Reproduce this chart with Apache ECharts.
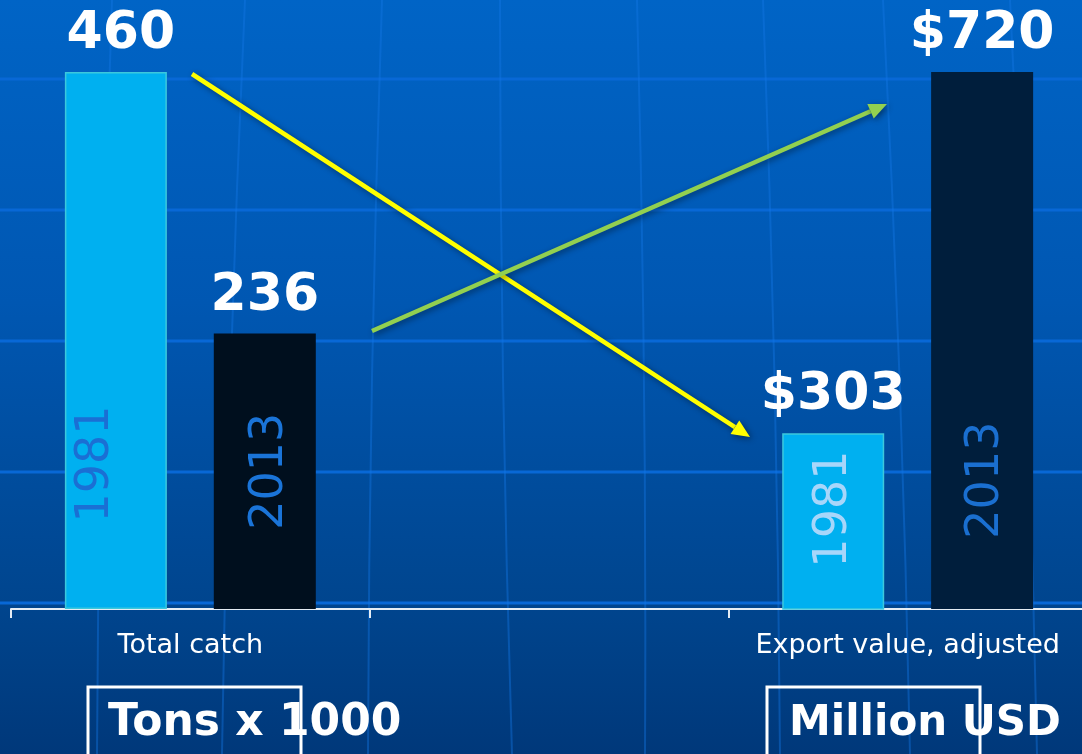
<!DOCTYPE html>
<html>
<head>
<meta charset="utf-8">
<title>Total catch and export value, 1981 vs 2013</title>
<script src="https://cdn.jsdelivr.net/npm/echarts@6/dist/echarts.min.js"></script>
<style>
  html, body { margin: 0; padding: 0; }
  #chart { width: 1082px; height: 754px; }
</style>
</head>
<body>
<div id="chart"></div>
<script>
// data
const categories = ['Total catch', '', 'Export value, adjusted']
const years = ['1981', '2013']
const catchValues = [460, 236]   // tons x 1000
const exportValues = [303, 720]  // million USD

const FONT = 'DejaVu Sans, Verdana, sans-serif'

// the slide's last category runs off the right edge, so don't let v6 shrink the grid
const GRID = { left: 11, top: 72, width: 1076, height: 537, outerBoundsMode: 'none', containLabel: false }

// one bar series, only filled at its own category
const makeBar = ({ year, value, catIndex, axisIndex, color, border, labelColor, labelPos, prefix, valueOffset }) => ({
  type: 'bar',
  name: year,
  xAxisIndex: axisIndex,
  yAxisIndex: axisIndex,
  clip: true,
  barWidth: 102,
  barGap: '46%',
  data: categories.map((c, i) => (i === catIndex ? value : '-')),
  itemStyle: {
    color: color,
    borderColor: border || color,
    borderWidth: border ? 1.5 : 0
  },
  label: {
    show: true,
    formatter: year,
    position: labelPos,
    rotate: 90,
    align: 'center',
    verticalAlign: 'middle',
    color: labelColor,
    fontFamily: FONT,
    fontSize: 46
  },
  markPoint: {
    symbol: 'circle',
    symbolSize: 1,
    silent: true,
    itemStyle: { color: 'rgba(0,0,0,0)' },
    data: [{ type: 'max' }],
    label: {
      show: true,
      position: 'top',
      distance: 11,
      offset: valueOffset || [0, 0],
      formatter: (p) => prefix + p.value,
      color: '#ffffff',
      fontFamily: FONT,
      fontWeight: 'bold',
      fontSize: 52
    }
  }
})

const series = [
  makeBar({ year: years[0], value: catchValues[0], catIndex: 0, axisIndex: 0, color: '#00b0f0', border: '#3cc8dc', labelColor: '#1a6fd4', labelPos: ['31%', '73%'], prefix: '', valueOffset: [5, 0] }),
  makeBar({ year: years[1], value: catchValues[1], catIndex: 0, axisIndex: 0, color: '#000f1e', labelColor: '#1a74d8', labelPos: ['55%', '50%'], prefix: '' }),
  makeBar({ year: years[0], value: exportValues[0], catIndex: 2, axisIndex: 1, color: '#00b0f0', border: '#3cc8dc', labelColor: '#a8d6fa', labelPos: ['51%', '43%'], prefix: '$' }),
  makeBar({ year: years[1], value: exportValues[1], catIndex: 2, axisIndex: 1, color: '#001e3c', labelColor: '#1a6fd0', labelPos: ['54%', '76%'], prefix: '$' })
]

// slide background: faint globe grid
const hLines = [79, 210, 341, 472, 603].map((y) => ({
  type: 'line',
  z: -10,
  silent: true,
  shape: { x1: 0, y1: y, x2: 1082, y2: y },
  style: { stroke: '#0868d6', lineWidth: 3 }
}))
const vTops = [112, 245, 382, 500, 637, 763, 883, 1010]
const vBottoms = [97, 222, 368, 512, 645, 780, 910, 1037]
const vLines = vTops.map((x, i) => ({
  type: 'bezierCurve',
  z: -10,
  silent: true,
  shape: {
    x1: x, y1: 0, x2: vBottoms[i], y2: 754,
    cpx1: (x + vBottoms[i]) / 2 + (i < 4 ? -6 : 6), cpy1: 377
  },
  style: { stroke: 'rgba(20,120,230,0.4)', lineWidth: 2, fill: null }
}))

const arrow = (x1, y1, x2, y2, color) => {
  const ang = Math.atan2(y2 - y1, x2 - x1)
  const len = 18
  const half = 8
  const bx = x2 - len * Math.cos(ang)
  const by = y2 - len * Math.sin(ang)
  const px = -Math.sin(ang) * half
  const py = Math.cos(ang) * half
  const shadow = { shadowBlur: 6, shadowColor: 'rgba(0,0,0,0.45)', shadowOffsetX: 2, shadowOffsetY: 2 }
  return [
    {
      type: 'line', z: 20, silent: true,
      shape: { x1: x1, y1: y1, x2: bx, y2: by },
      style: Object.assign({ stroke: color, lineWidth: 4.5 }, shadow)
    },
    {
      type: 'polygon', z: 20, silent: true,
      shape: { points: [[x2, y2], [bx + px, by + py], [bx - px, by - py]] },
      style: Object.assign({ fill: color }, shadow)
    }
  ]
}

const unitBox = (x, text, textX, size) => [
  {
    type: 'rect', z: 20, silent: true,
    shape: { x: x, y: 687, width: 213, height: 90 },
    style: { fill: null, stroke: '#ffffff', lineWidth: 3 }
  },
  {
    type: 'text', z: 21, silent: true,
    style: {
      x: textX, y: 724, text: text,
      fill: '#ffffff', font: 'bold ' + size + 'px ' + FONT,
      verticalAlign: 'middle'
    }
  }
]

const option = {
  animation: false,
  backgroundColor: new echarts.graphic.LinearGradient(0, 0, 0, 1, [
    { offset: 0, color: '#0064c6' },
    { offset: 0.4, color: '#0057b2' },
    { offset: 0.8, color: '#00458e' },
    { offset: 1, color: '#00387a' }
  ]),
  grid: [
    Object.assign({}, GRID),
    Object.assign({}, GRID)
  ],
  xAxis: [
    {
      type: 'category',
      gridIndex: 0,
      data: categories,
      axisLine: { show: true, lineStyle: { color: '#e4ecf4', width: 2 } },
      axisTick: { show: true, length: 9, interval: 0, lineStyle: { color: '#e4ecf4', width: 2 } },
      axisLabel: { color: '#ffffff', fontFamily: FONT, fontSize: 27, margin: 23, interval: 0, hideOverlap: false },
      splitLine: { show: false }
    },
    {
      type: 'category',
      gridIndex: 1,
      data: categories,
      show: false
    }
  ],
  yAxis: [
    { type: 'value', gridIndex: 0, min: 0, max: 460, show: false, splitLine: { show: false } },
    { type: 'value', gridIndex: 1, min: 100, max: 720, show: false, splitLine: { show: false } }
  ],
  graphic: [].concat(
    hLines,
    vLines,
    arrow(192, 74, 750, 437, '#ffff00'),
    arrow(372, 331, 887, 104, '#92d050'),
    unitBox(88, 'Tons x 1000', 108, 44),
    unitBox(767, 'Million USD', 789, 42)
  ),
  series: series
}

const chart = echarts.init(document.getElementById('chart'))
chart.setOption(option)
window.addEventListener('resize', () => {
  chart.resize()
})
</script>
</body>
</html>
